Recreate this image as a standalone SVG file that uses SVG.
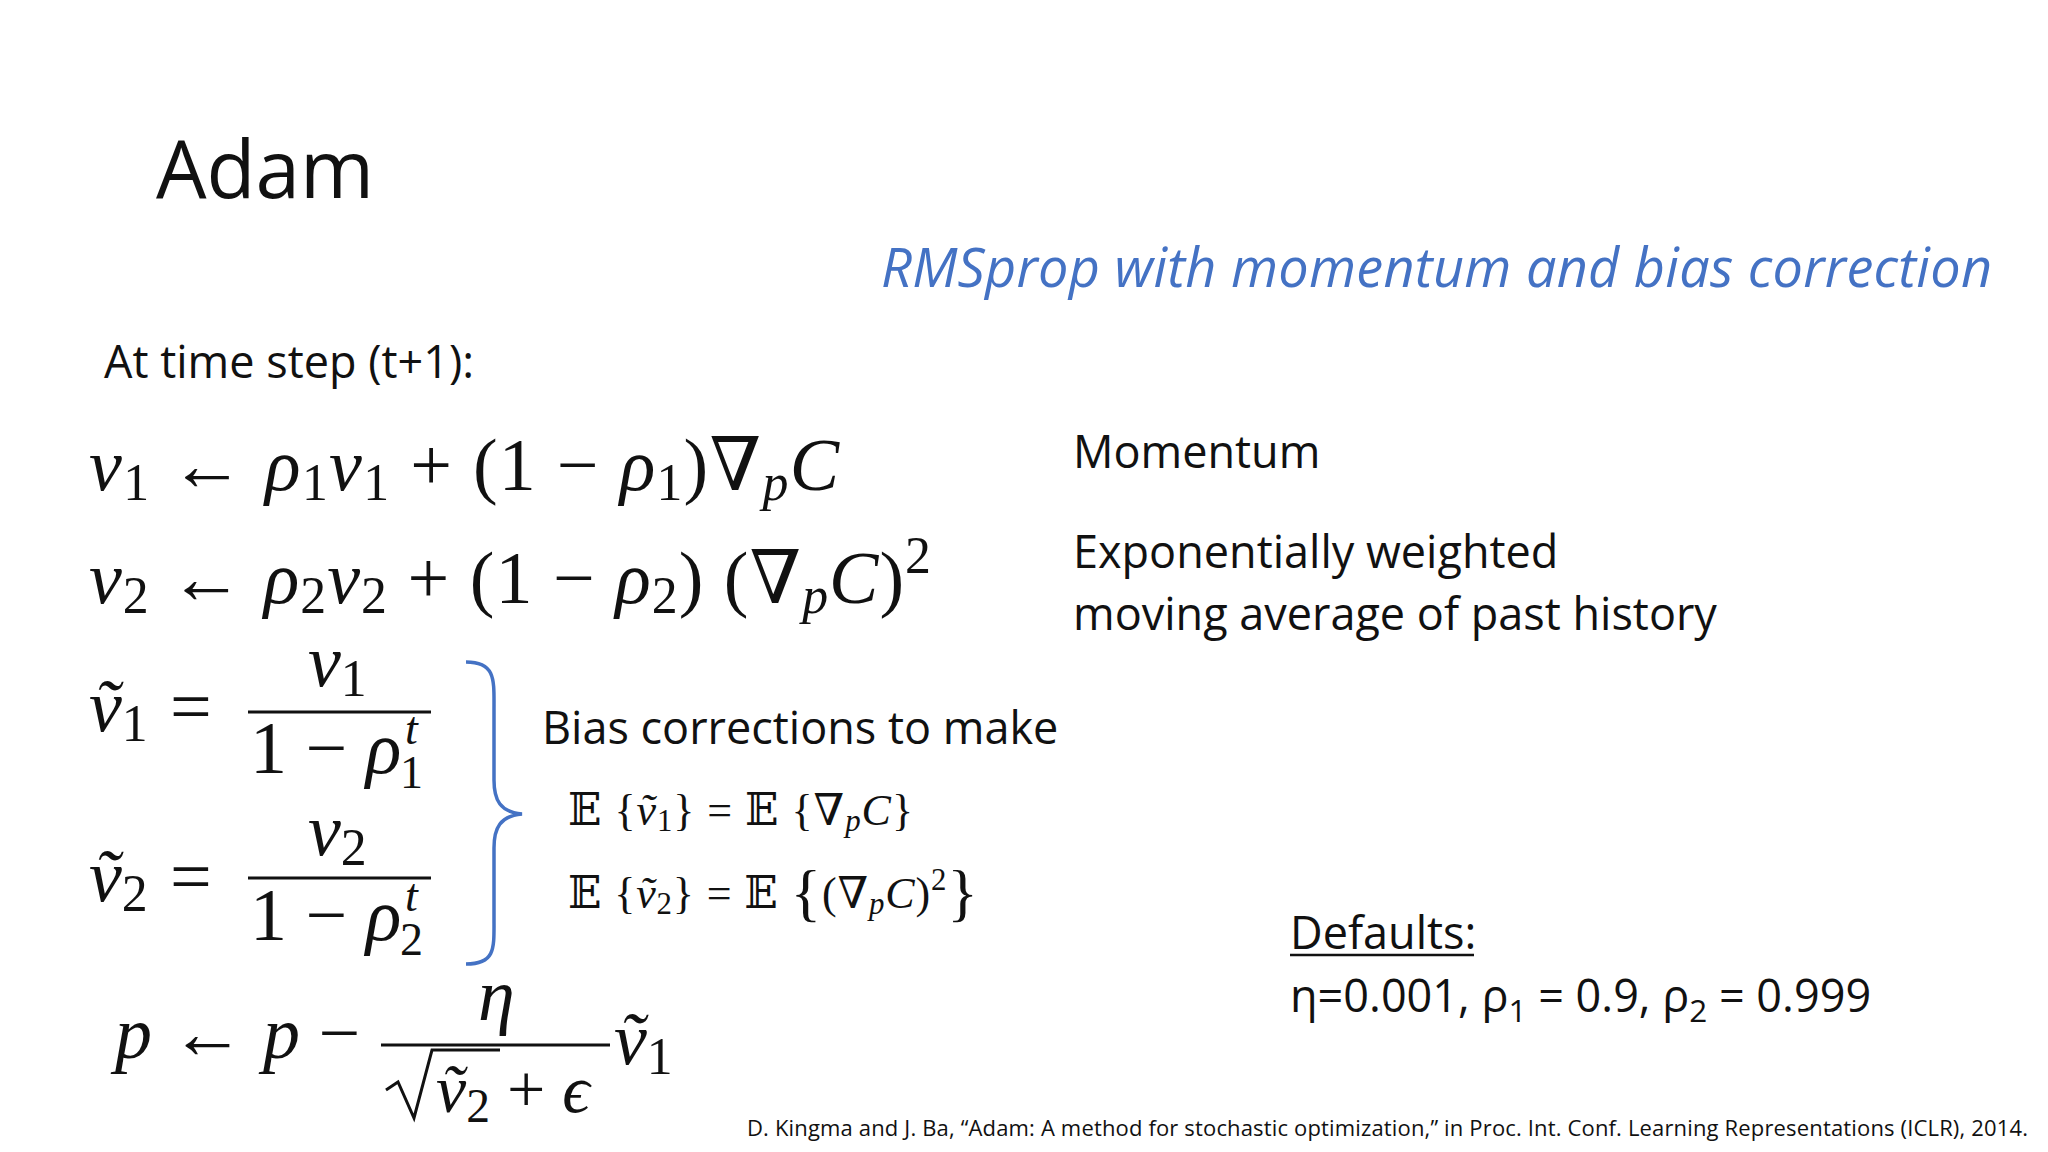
<svg xmlns="http://www.w3.org/2000/svg" width="2048" height="1152" viewBox="0 0 2048 1152">
<style>
.s{font-family:"Open Sans","Liberation Sans",sans-serif;fill:#111}
.m{font-family:"Liberation Serif","DejaVu Serif",serif;fill:#111}
.i{font-style:italic}
.sub{font-size:0.7em}
</style>
<rect width="2048" height="1152" fill="#fff"/>
<g id="title"><text class="s" x="156" y="198" font-size="80">Adam</text></g>
<g id="subtitle"><text class="s i" x="881" y="287" font-size="54" style="fill:#4472C4" textLength="1111">RMSprop with momentum and bias correction</text></g>
<g id="timestep"><text class="s" x="104" y="378" font-size="45">At time step (t+1):</text></g>
<g id="eq1"><text class="m" x="89" y="490" font-size="74" textLength="750"><tspan class="i">v</tspan><tspan class="sub" dy="10">1</tspan><tspan dy="-10"> ← </tspan><tspan class="i">ρ</tspan><tspan class="sub" dy="10">1</tspan><tspan class="i" dy="-10">v</tspan><tspan class="sub" dy="10">1</tspan><tspan dy="-10"> + (1 − </tspan><tspan class="i">ρ</tspan><tspan class="sub" dy="10">1</tspan><tspan dy="-10">)∇</tspan><tspan class="i sub" dy="10">p</tspan><tspan class="i" dy="-10">C</tspan></text></g>
<g id="eq2"><text class="m" x="89" y="603" font-size="74" textLength="842"><tspan class="i">v</tspan><tspan class="sub" dy="10">2</tspan><tspan dy="-10"> ← </tspan><tspan class="i">ρ</tspan><tspan class="sub" dy="10">2</tspan><tspan class="i" dy="-10">v</tspan><tspan class="sub" dy="10">2</tspan><tspan dy="-10"> + (1 − </tspan><tspan class="i">ρ</tspan><tspan class="sub" dy="10">2</tspan><tspan dy="-10">) (∇</tspan><tspan class="i sub" dy="10">p</tspan><tspan class="i" dy="-10">C</tspan><tspan>)</tspan><tspan class="sub" dy="-30">2</tspan></text></g>
<g id="eq3">
<text class="m" x="89" y="731" font-size="74"><tspan class="i">ṽ</tspan><tspan class="sub" dy="10">1</tspan><tspan dy="-10" x="170">=</tspan></text>
<text class="m" x="308" y="686" font-size="74"><tspan class="i">v</tspan><tspan class="sub" dy="10">1</tspan></text>
<line x1="248" y1="712" x2="431" y2="712" stroke="#111" stroke-width="3"/>
<text class="m" x="250" y="773" font-size="74">1 − <tspan class="i">ρ</tspan></text>
<text class="m i" x="405" y="744" font-size="46">t</text>
<text class="m" x="400" y="788" font-size="46">1</text>
</g>
<g id="eq4">
<text class="m" x="89" y="901" font-size="74"><tspan class="i">ṽ</tspan><tspan class="sub" dy="10">2</tspan><tspan dy="-10" x="170">=</tspan></text>
<text class="m" x="308" y="855" font-size="74"><tspan class="i">v</tspan><tspan class="sub" dy="10">2</tspan></text>
<line x1="248" y1="878" x2="431" y2="878" stroke="#111" stroke-width="3"/>
<text class="m" x="250" y="940" font-size="74">1 − <tspan class="i">ρ</tspan></text>
<text class="m i" x="405" y="911" font-size="46">t</text>
<text class="m" x="400" y="955" font-size="46">2</text>
</g>
<g id="brace"><path d="M466,662 C496,662 494,680 494,710 L494,780 C494,800 500,812 522,814 C500,816 494,828 494,848 L494,918 C494,948 496,964 466,964" fill="none" stroke="#4472C4" stroke-width="3.5"/></g>
<g id="bias">
<text class="s" x="542" y="744" font-size="45">Bias corrections to make</text>
<text class="m" x="568" y="825" font-size="44" textLength="345">𝔼 {<tspan class="i">ṽ</tspan><tspan class="sub" dy="6">1</tspan><tspan dy="-6">} = 𝔼 {∇</tspan><tspan class="i sub" dy="6">p</tspan><tspan class="i" dy="-6">C</tspan>}</text>
<text class="m" x="568" y="908" font-size="44" textLength="410">𝔼 {<tspan class="i">ṽ</tspan><tspan class="sub" dy="6">2</tspan><tspan dy="-6">} = 𝔼 </tspan><tspan font-size="64" dy="6">{</tspan><tspan dy="-6">(∇</tspan><tspan class="i sub" dy="6">p</tspan><tspan class="i" dy="-6">C</tspan>)<tspan class="sub" dy="-18">2</tspan><tspan font-size="64" dy="24">}</tspan></text>
</g>
<g id="eq5">
<text class="m" x="115" y="1058" font-size="74"><tspan class="i">p</tspan> ← <tspan class="i">p</tspan> −</text>
<text class="m i" x="478" y="1020" font-size="74">η</text>
<line x1="381" y1="1045" x2="610" y2="1045" stroke="#111" stroke-width="3"/>
<path d="M386,1090 L398,1082 L414,1118 L432,1050 L500,1050" fill="none" stroke="#111" stroke-width="3"/>
<text class="m" x="436" y="1112" font-size="68"><tspan class="i">ṽ</tspan><tspan class="sub" dy="10">2</tspan><tspan dy="-10"> + </tspan><tspan class="i">ϵ</tspan></text>
<text class="m" x="614" y="1064" font-size="74"><tspan class="i">ṽ</tspan><tspan class="sub" dy="10">1</tspan></text>
</g>
<g id="notes">
<text class="s" x="1073" y="468" font-size="45">Momentum</text>
<text class="s" x="1073" y="568" font-size="45">Exponentially weighted</text>
<text class="s" x="1073" y="630" font-size="45">moving average of past history</text>
</g>
<g id="defaults">
<text class="s" x="1290" y="949" font-size="45">Defaults:</text>
<line x1="1290" y1="955" x2="1474" y2="955" stroke="#111" stroke-width="2.5"/>
<text class="s" x="1290" y="1012" font-size="45">η=0.001, ρ<tspan class="sub" dy="10">1</tspan><tspan dy="-10"> = 0.9, ρ</tspan><tspan class="sub" dy="10">2</tspan><tspan dy="-10"> = 0.999</tspan></text>
</g>
<g id="citation"><text class="s" x="747" y="1136" font-size="22" textLength="1281">D. Kingma and J. Ba, “Adam: A method for stochastic optimization,” in Proc. Int. Conf. Learning Representations (ICLR), 2014.</text></g>
</svg>
